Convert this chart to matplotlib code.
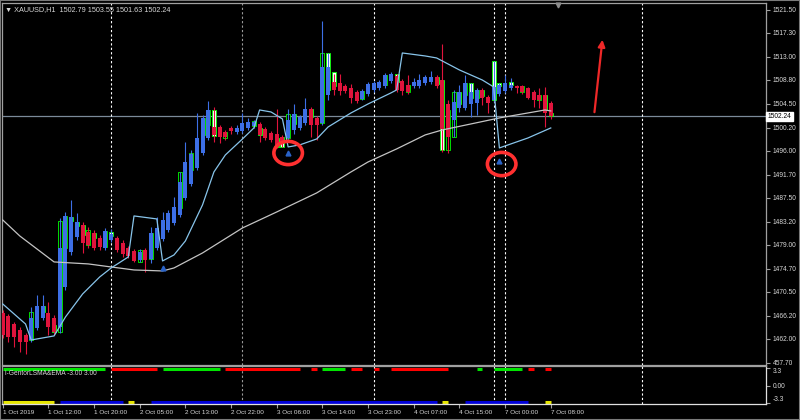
import matplotlib
matplotlib.use("Agg")
import matplotlib.pyplot as plt
import matplotlib.transforms as mtransforms
from matplotlib.patches import Ellipse, Rectangle
import numpy as np

plt.rcParams['font.family'] = ['Liberation Sans', 'DejaVu Sans']

# XAUUSD H1, heiken ashi bars as drawn (blue up / red down)
ha_open = [1466.69, 1466.15, 1464.70, 1463.62, 1462.72, 1461.81, 1463.98, 1465.79, 1466.69, 1465.79,
           1464.16, 1471.39, 1477.71, 1480.42, 1482.59, 1481.33, 1481.15, 1480.24, 1478.44, 1479.88,
           1480.24, 1479.34, 1478.44, 1477.90, 1476.27, 1478.08, 1476.45, 1478.44, 1480.06, 1481.69,
           1482.95, 1484.40, 1487.47, 1490.00, 1492.89, 1495.60, 1498.31, 1500.30, 1500.30, 1499.40,
           1500.12, 1499.40, 1499.58, 1500.12, 1500.48, 1500.84, 1499.94, 1499.22, 1499.04, 1498.49,
           1498.31, 1499.76, 1500.12, 1501.02, 1503.55, 1501.93, 1501.02, 1506.08, 1508.43, 1508.25,
           1507.71, 1507.35, 1506.63, 1505.36, 1506.27, 1506.99, 1507.35, 1507.71, 1508.61, 1509.52,
           1508.61, 1507.89, 1507.71, 1507.71, 1508.25, 1508.43, 1509.34, 1508.79, 1504.46, 1501.57,
           1503.74, 1503.74, 1504.46, 1504.64, 1506.99, 1505.72, 1505.18, 1506.27, 1506.81, 1507.35,
           1507.71, 1507.71, 1507.35, 1506.63, 1506.08, 1506.08, 1504.64]
ha_close = [1462.72, 1462.36, 1462.36, 1461.45, 1461.45, 1465.79, 1467.96, 1467.96, 1464.16, 1463.26,
            1478.44, 1484.22, 1484.04, 1483.14, 1479.34, 1478.98, 1478.44, 1478.62, 1481.51, 1480.97,
            1478.08, 1477.35, 1476.99, 1476.09, 1477.71, 1476.27, 1481.15, 1482.05, 1483.50, 1484.76,
            1485.85, 1490.36, 1493.98, 1495.42, 1498.31, 1501.93, 1503.37, 1498.86, 1498.49, 1498.49,
            1499.58, 1500.12, 1501.02, 1501.20, 1501.20, 1498.86, 1498.31, 1497.95, 1496.69, 1497.59,
            1501.57, 1502.65, 1502.11, 1503.55, 1500.66, 1500.66, 1511.14, 1511.14, 1506.99, 1506.81,
            1506.81, 1505.54, 1505.00, 1506.81, 1508.07, 1508.25, 1508.43, 1509.70, 1509.88, 1506.99,
            1506.81, 1506.63, 1508.43, 1508.79, 1509.34, 1509.34, 1507.71, 1499.94, 1498.49, 1504.82,
            1506.63, 1508.25, 1506.63, 1506.99, 1505.54, 1504.64, 1507.53, 1507.89, 1508.25, 1507.89,
            1507.35, 1506.63, 1505.54, 1505.18, 1505.18, 1502.83, 1502.29]
ha_high = [1467.23, 1466.51, 1465.07, 1464.16, 1463.08, 1467.78, 1469.94, 1469.94, 1468.68, 1466.33,
           1483.86, 1484.94, 1487.11, 1484.76, 1483.14, 1482.23, 1481.69, 1480.79, 1482.05, 1481.87,
           1480.60, 1479.88, 1478.80, 1478.26, 1478.26, 1478.44, 1482.23, 1484.04, 1484.94, 1485.30,
           1487.65, 1492.17, 1497.59, 1496.15, 1502.83, 1502.47, 1505.00, 1503.92, 1500.66, 1499.76,
           1500.48, 1500.66, 1502.83, 1501.93, 1501.57, 1501.20, 1500.30, 1499.58, 1503.55, 1498.86,
           1503.55, 1504.46, 1502.47, 1505.54, 1503.92, 1502.29, 1519.46, 1513.67, 1509.88, 1509.88,
           1508.07, 1508.07, 1506.99, 1507.17, 1508.43, 1508.61, 1508.79, 1510.06, 1510.24, 1509.88,
           1508.97, 1509.70, 1509.16, 1509.88, 1509.70, 1510.42, 1509.70, 1515.30, 1505.18, 1506.99,
           1507.89, 1509.70, 1508.25, 1507.35, 1507.35, 1506.08, 1512.23, 1508.25, 1509.70, 1509.16,
           1507.89, 1507.89, 1507.53, 1506.99, 1507.35, 1507.53, 1505.00]
ha_low = [1462.18, 1461.45, 1460.55, 1459.64, 1459.28, 1461.45, 1463.62, 1465.43, 1462.72, 1462.72,
          1463.08, 1470.85, 1477.17, 1479.88, 1477.53, 1478.44, 1478.08, 1478.08, 1478.08, 1479.52,
          1477.71, 1476.81, 1476.63, 1475.91, 1475.91, 1474.10, 1475.73, 1478.08, 1479.70, 1481.33,
          1482.59, 1484.04, 1487.11, 1489.64, 1492.53, 1495.24, 1497.95, 1497.59, 1497.41, 1497.95,
          1499.04, 1499.04, 1499.22, 1499.76, 1500.12, 1497.59, 1497.95, 1497.59, 1496.51, 1496.69,
          1497.95, 1499.04, 1499.76, 1500.66, 1498.49, 1497.95, 1500.66, 1505.18, 1506.08, 1506.08,
          1506.45, 1504.64, 1504.64, 1505.18, 1505.90, 1506.63, 1506.99, 1507.35, 1508.25, 1506.63,
          1506.08, 1506.27, 1507.35, 1507.35, 1507.89, 1508.07, 1507.35, 1495.78, 1495.60, 1498.49,
          1503.01, 1503.37, 1502.11, 1502.47, 1504.28, 1502.83, 1504.82, 1505.90, 1506.45, 1506.99,
          1506.45, 1506.27, 1505.36, 1503.92, 1503.74, 1500.30, 1501.75]

# plain candle bodies showing around the heiken ashi bars (green outline)
cb_bar = [5, 7, 9, 10, 11, 12, 13, 14, 15, 16, 18, 19, 24, 26, 31, 33, 35, 36, 37, 39,
          44, 45, 48, 49, 50, 51, 54, 56, 57, 58, 63, 67, 69, 71, 76, 77, 78, 79, 80, 81,
          82, 83, 84, 86, 87, 89, 91, 94, 95, 96]
cb_open = [1461.81, 1467.96, 1464.52, 1463.26, 1478.44, 1484.04, 1483.14, 1482.59, 1478.98, 1481.15,
           1478.62, 1481.33, 1475.91, 1476.45, 1485.66, 1492.53, 1498.86, 1500.66, 1503.37, 1498.31,
           1500.48, 1500.12, 1498.31, 1498.49, 1498.31, 1502.65, 1503.55, 1501.02, 1513.67, 1510.24,
           1505.36, 1507.89, 1509.88, 1506.63, 1509.34, 1508.79, 1496.15, 1498.49, 1506.63, 1506.08,
           1508.25, 1505.54, 1506.99, 1512.23, 1508.25, 1508.43, 1506.63, 1505.18, 1506.08, 1502.79]
cb_close = [1466.87, 1466.87, 1463.26, 1483.32, 1484.22, 1483.32, 1482.41, 1480.79, 1481.69, 1480.24,
            1481.51, 1480.60, 1478.08, 1481.15, 1492.17, 1495.60, 1501.93, 1503.37, 1498.67, 1499.40,
            1501.39, 1498.86, 1496.69, 1496.69, 1502.65, 1500.84, 1502.11, 1513.67, 1506.99, 1507.71,
            1506.81, 1509.70, 1508.43, 1507.89, 1508.07, 1496.15, 1503.37, 1506.63, 1504.46, 1508.25,
            1505.54, 1506.99, 1505.90, 1505.18, 1507.71, 1507.89, 1507.71, 1506.08, 1503.37, 1502.24]

# indicator lines on the price chart (vertices)
fast_bars = [0, 4, 5, 9, 11, 14, 17, 19, 22, 23, 27, 28, 30, 32, 35, 37, 39, 42, 44, 45,
             47, 49, 50, 52, 55, 57, 61, 64, 68, 69, 70, 74, 76, 80, 84, 86, 87, 88, 92, 96]
fast_vals = [1468.32, 1464.70, 1461.81, 1462.54, 1465.97, 1470.12, 1473.20, 1474.82, 1476.81, 1484.22,
             1483.68, 1476.09, 1477.17, 1479.70, 1486.21, 1492.17, 1495.24, 1498.13, 1500.12, 1503.37,
             1503.01, 1501.75, 1496.69, 1497.05, 1498.13, 1500.30, 1502.83, 1504.46, 1506.45, 1506.99,
             1513.67, 1513.13, 1512.77, 1510.60, 1508.79, 1507.53, 1496.51, 1496.87, 1498.31, 1500.12]
slow_bars = [0, 3, 9, 15, 19, 23, 28, 30, 35, 42, 48, 55, 61, 64, 69, 74, 77, 82, 87, 92, 95, 96]
slow_vals = [1483.50, 1480.60, 1475.91, 1475.55, 1475.00, 1474.46, 1474.28, 1474.82, 1477.53, 1482.05,
             1484.94, 1488.38, 1492.17, 1493.98, 1496.33, 1498.86, 1499.76, 1500.84, 1501.93, 1502.83,
             1503.37, 1503.19]

bid = 1502.24
title = "XAUUSD,H1  1502.79 1503.55 1501.63 1502.24"

# signal arrows and hand-drawn marks
signal_bars = [28, 50, 87]
signal_vals = [1474.82, 1495.60, 1494.16]
circle_bars = [50, 87.4]
circle_vals = [1495.6, 1493.6]
arrow_from = (103.6, 1502.47)
arrow_to = (105.1, 1516.56)

vline_bars = [19, 42, 65, 86, 88, 112]
vline_colors = ['white', '#9a9a9a', 'white', 'white', 'white', 'white']

price_ticks = [1521.50, 1517.30, 1513.00, 1508.80, 1504.50, 1500.20, 1496.00, 1491.70,
               1487.50, 1483.20, 1479.00, 1474.70, 1470.50, 1466.20, 1462.00, 1457.70]
price_labels = ['1521.50', '1517.30', '1513.00', '1508.80', '1504.50', '1500.20', '1496.00', '1491.70',
                '1487.50', '1483.20', '1479.00', '1474.70', '1470.50', '1466.20', '1462.00', '457.70']
time_ticks = [0, 8, 16, 24, 32, 40, 48, 56, 64, 72, 80, 88, 96]
time_labels = ['1 Oct 2019', '1 Oct 12:00', '1 Oct 20:00', '2 Oct 05:00', '2 Oct 13:00', '2 Oct 22:00',
               '3 Oct 06:00', '3 Oct 14:00', '3 Oct 23:00', '4 Oct 07:00', '4 Oct 15:00',
               '7 Oct 00:00', '7 Oct 08:00']

# i-GentorLSMA&EMA sub window: (first bar, last bar, colour)
top_segments = [(0, 18, 'g'), (19, 27, 'r'), (28, 38, 'g'), (39, 52, 'r'), (54, 55, 'r'),
                (56, 60, 'g'), (61, 63, 'r'), (65, 66, 'r'), (68, 78, 'r'), (83, 84, 'g'),
                (86, 91, 'g'), (92, 93, 'r'), (95, 96, 'r')]
bottom_segments = [(0, 9, 'y'), (10, 21, 'b'), (22, 23, 'y'), (26, 76, 'b'), (77, 78, 'y'),
                   (81, 92, 'b'), (95, 96, 'y')]
seg_colors = {'g': '#00e400', 'r': '#ff0000', 'y': '#e8e800', 'b': '#0000d8'}

fg = '#d8d8d8'
edge = '#a0a0a0'

fig = plt.figure(figsize=(8, 4.2), dpi=100, facecolor='black')
ax = fig.add_axes([0.0025, 0.131, 0.955, 0.862], facecolor='black')
sub = fig.add_axes([0.0025, 0.038, 0.955, 0.0905], facecolor='black', sharex=ax)

bars = np.arange(len(ha_open))
o = np.array(ha_open)
c = np.array(ha_close)
ha_col = np.where(c >= o, '#3d6fe6', '#e0143c')
body_w = 0.7

# plain candles first, heiken ashi on top
co = np.array(cb_open)
cc = np.array(cb_close)
ax.bar(cb_bar, np.abs(cc - co), bottom=np.minimum(co, cc), width=body_w,
       color=np.where(cc > co, 'black', 'white'), edgecolor='#00ff00', linewidth=0.6, zorder=2)
ax.vlines(bars, ha_low, ha_high, colors=ha_col, lw=0.8, zorder=3)
ax.bar(bars, np.maximum(np.abs(c - o), 0.25), bottom=np.minimum(o, c), width=body_w,
       color=ha_col, linewidth=0, zorder=4)

ax.plot(slow_bars, slow_vals, color='#c4c4c4', lw=0.9, zorder=5)
ax.plot(fast_bars, fast_vals, color='#88c4ea', lw=0.9, zorder=5)
ax.axhline(bid, color='#7b8a99', lw=0.9, zorder=1)

for b, col in zip(vline_bars, vline_colors):
    ax.axvline(b, color=col, ls=(0, (2, 2)), lw=0.8, zorder=1)
    sub.axvline(b, color=col, ls=(0, (2, 2)), lw=0.8, zorder=1)

ax.plot(signal_bars, signal_vals, ls='none', marker='^', ms=3.5, color='#2a63c8', zorder=6)
for cx, cy in zip(circle_bars, circle_vals):
    ax.add_patch(Ellipse((cx, cy), width=5.0, height=4.2, fill=False, ec='#ff3030', lw=2.6, zorder=7))
ax.annotate('', xy=arrow_to, xytext=arrow_from,
            arrowprops=dict(arrowstyle='-|>', color='#ee2828', lw=1.6, mutation_scale=10))

ax.set_xlim(-0.12, 133.7)
ax.set_ylim(1457.29, 1522.71)
ax.yaxis.tick_right()
ax.set_yticks(price_ticks)
ax.set_yticklabels(price_labels)
ax.tick_params(axis='y', colors=edge, labelcolor=fg, labelsize=4.8, length=3, pad=2)
ax.tick_params(axis='x', bottom=False, labelbottom=False)
for s in ax.spines.values():
    s.set_color(edge)
    s.set_linewidth(0.9)

# chart shift marker and title
ax.plot([97.3], [1522.3], marker='v', ms=3.5, color='#8c8c8c', clip_on=False, zorder=8)
ax.text(0.004, 0.981, '\u25bc ' + title, transform=ax.transAxes, color=fg, fontsize=5.2,
        va='center', ha='left', family=['Liberation Sans', 'DejaVu Sans'])
tr = mtransforms.blended_transform_factory(ax.transAxes, ax.transData)
ax.text(1.002, bid, '%.2f' % bid, transform=tr, fontsize=4.8, color='black', va='center', ha='left',
        bbox=dict(boxstyle='square,pad=0.18', fc='white', ec='white'), zorder=9, clip_on=False)

# sub window
for a, b, k in top_segments:
    sub.plot([a, b], [3, 3], color=seg_colors[k], lw=2.2, solid_capstyle='butt')
for a, b, k in bottom_segments:
    sub.plot([a, b], [-3, -3], color=seg_colors[k], lw=2.2, solid_capstyle='butt')
sub.text(0.004, 0.80, 'i-GentorLSMA&EMA -3.00 3.00', transform=sub.transAxes, color=fg,
         fontsize=4.8, va='center', ha='left')
sub.set_ylim(-3.4, 3.6)
sub.yaxis.tick_right()
sub.set_yticks([3.3, 0, -3.3])
sub.set_yticklabels(['3.3', '0.00', '-3.3'])
ylabs = sub.get_yticklabels()
ylabs[0].set_va('top')
ylabs[2].set_va('bottom')
sub.tick_params(axis='y', colors=edge, labelcolor=fg, labelsize=4.8, length=3, pad=2)
sub.set_xticks(time_ticks)
sub.set_xticklabels(time_labels, ha='left')
sub.tick_params(axis='x', colors=edge, labelcolor=fg, labelsize=4.6, length=3, pad=1.5)
for name, s in sub.spines.items():
    s.set_color('#e0e0e0' if name in ('right', 'bottom') else edge)
    s.set_linewidth(0.9)

fig.add_artist(Rectangle((0, 0), 1, 1, transform=fig.transFigure, fill=False, ec='#7a7a7a', lw=1.5))

fig.savefig('out.png', dpi=100, facecolor='black')
